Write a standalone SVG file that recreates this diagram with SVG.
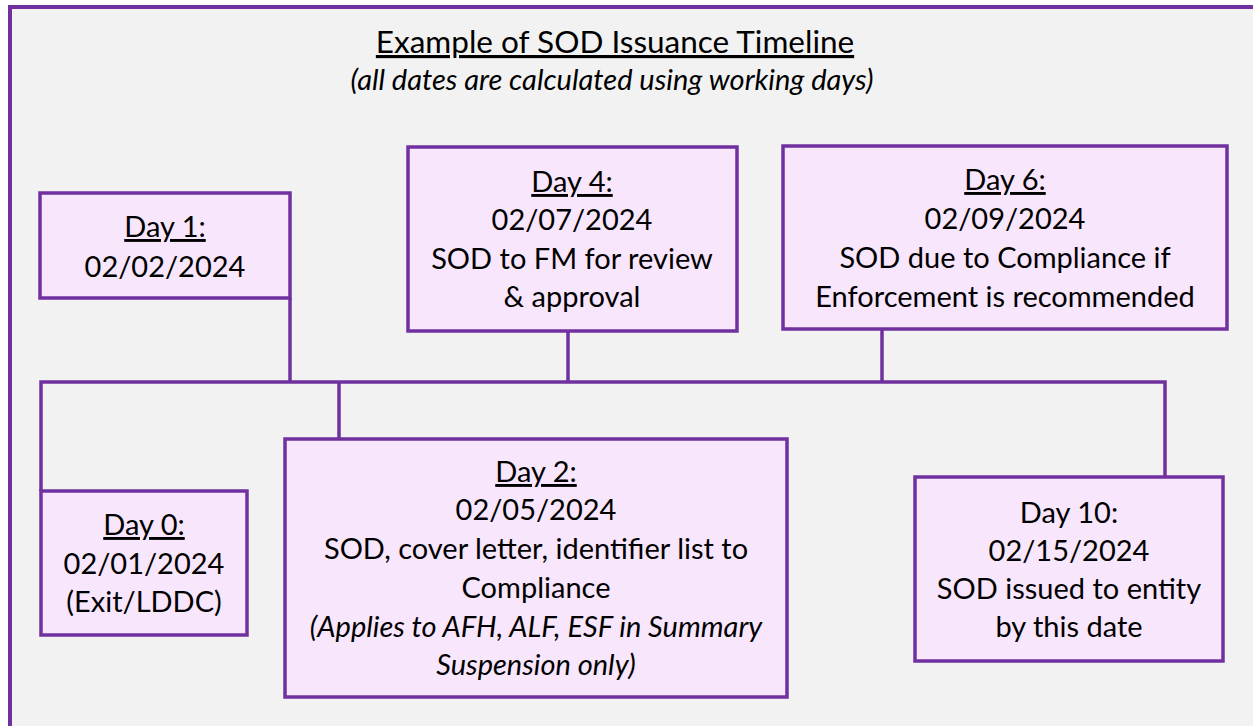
<svg xmlns="http://www.w3.org/2000/svg" width="1253" height="726" viewBox="0 0 1253 726">
  <style>
    .frame { fill: #F2F2F2; stroke: #7030A0; stroke-width: 4; }
    .box { fill: #F8E6FC; stroke: #7030A0; stroke-width: 3.5; }
    .wire { fill: none; stroke: #7030A0; stroke-width: 3.5; }
    text { font-family: Lato, "Open Sans", "Liberation Sans", sans-serif; fill: #000; text-anchor: middle; }
    .title { font-size: 31.5px; text-decoration: underline; }
    .sub { font-size: 29px; font-style: italic; }
    .t { font-size: 29px; }
    .u { text-decoration: underline; }
    .i { font-style: italic; }
  </style>

  <!-- page frame -->
  <rect class="frame" x="10" y="7" width="1250" height="721"/>

  <g id="heading">
    <text class="title" x="615" y="53">Example of SOD Issuance Timeline</text>
    <text class="sub" x="612" y="90">(all dates are calculated using working days)</text>
  </g>

  <!-- timeline spine and drops -->
  <g id="connectors">
    <polyline class="wire" points="41,491 41,382 1165,382 1165,477"/>
    <line class="wire" x1="290" y1="298" x2="290" y2="382"/>
    <line class="wire" x1="568" y1="331" x2="568" y2="382"/>
    <line class="wire" x1="882" y1="329" x2="882" y2="382"/>
    <line class="wire" x1="339" y1="382" x2="339" y2="439"/>
  </g>

  <g id="day1">
    <rect class="box" x="40" y="193" width="250" height="105"/>
    <text class="t" x="165" y="237"><tspan class="u">Day 1:</tspan></text>
    <text class="t" x="165" y="277">02/02/2024</text>
  </g>

  <g id="day4">
    <rect class="box" x="408" y="147" width="329" height="184"/>
    <text class="t" x="572" y="192"><tspan class="u">Day 4:</tspan></text>
    <text class="t" x="572" y="230">02/07/2024</text>
    <text class="t" x="572" y="269">SOD to FM for review</text>
    <text class="t" x="572" y="307">&amp; approval</text>
  </g>

  <g id="day6">
    <rect class="box" x="783" y="146" width="444" height="183"/>
    <text class="t" x="1005" y="190"><tspan class="u">Day 6:</tspan></text>
    <text class="t" x="1005" y="229">02/09/2024</text>
    <text class="t" x="1005" y="268">SOD due to Compliance if</text>
    <text class="t" x="1005" y="307">Enforcement is recommended</text>
  </g>

  <g id="day0">
    <rect class="box" x="41" y="491" width="206" height="144"/>
    <text class="t" x="144" y="535"><tspan class="u">Day 0:</tspan></text>
    <text class="t" x="144" y="574">02/01/2024</text>
    <text class="t" x="144" y="612">(Exit/LDDC)</text>
  </g>

  <g id="day2">
    <rect class="box" x="285" y="439" width="502" height="258"/>
    <text class="t" x="536" y="482"><tspan class="u">Day 2:</tspan></text>
    <text class="t" x="536" y="520">02/05/2024</text>
    <text class="t" x="536" y="559">SOD, cover letter, identifier list to</text>
    <text class="t" x="536" y="598">Compliance</text>
    <text class="t i" x="536" y="637">(Applies to AFH, ALF, ESF in Summary</text>
    <text class="t i" x="536" y="675">Suspension only)</text>
  </g>

  <g id="day10">
    <rect class="box" x="915" y="477" width="308" height="184"/>
    <text class="t" x="1069" y="523">Day 10:</text>
    <text class="t" x="1069" y="561">02/15/2024</text>
    <text class="t" x="1069" y="599">SOD issued to entity</text>
    <text class="t" x="1069" y="637">by this date</text>
  </g>
</svg>
